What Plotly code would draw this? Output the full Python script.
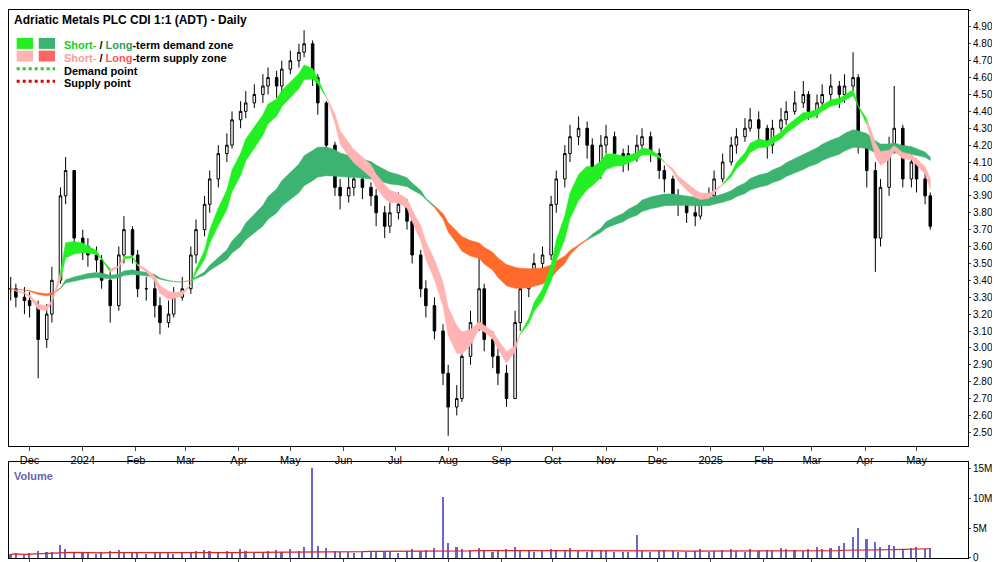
import pandas as pd
import numpy as np
import plotly.graph_objects as go
from plotly.subplots import make_subplots

closes = [3.35,3.30,3.28,3.25,3.05,3.20,3.40,3.90,4.05,3.65,3.60,3.55,3.52,3.40,3.25,3.55,3.70,3.55,3.35,3.35,
          3.25,3.15,3.20,3.30,3.35,3.55,3.70,3.85,4.00,4.15,4.20,4.35,4.40,4.45,4.50,4.55,4.60,4.55,4.65,4.70,
          4.75,4.80,4.60,4.45,4.20,3.95,3.90,3.95,4.00,3.95,3.90,3.80,3.72,3.80,3.85,3.75,3.55,3.35,3.25,3.10,
          2.85,2.65,2.70,2.95,3.15,3.35,3.05,2.95,2.85,2.70,3.15,3.35,3.40,3.50,3.55,3.85,4.00,4.15,4.25,4.30,
          4.20,4.05,4.20,4.25,4.15,4.10,4.15,4.20,4.25,4.15,4.05,4.00,3.90,3.85,3.80,3.78,3.85,3.90,4.00,4.10,
          4.20,4.25,4.30,4.35,4.30,4.20,4.30,4.35,4.40,4.45,4.50,4.40,4.45,4.50,4.55,4.50,4.55,4.60,4.20,4.05,
          3.65,3.95,4.20,4.30,4.00,4.10,4.00,3.90,3.72]
highs = [3.42,3.38,3.36,3.33,3.28,3.26,3.48,3.95,4.13,4.05,3.70,3.65,3.60,3.55,3.45,3.60,3.78,3.72,3.58,3.42,
         3.40,3.30,3.28,3.36,3.42,3.60,3.76,3.90,4.05,4.20,4.27,4.40,4.46,4.52,4.56,4.62,4.66,4.64,4.70,4.76,
         4.80,4.88,4.82,4.62,4.46,4.22,4.00,4.02,4.06,4.04,3.98,3.94,3.84,3.86,3.92,3.88,3.78,3.58,3.40,3.30,
         3.14,2.90,2.78,3.00,3.22,3.55,3.38,3.10,3.00,2.90,3.22,3.42,3.46,3.56,3.60,3.90,4.05,4.20,4.32,4.37,
         4.34,4.24,4.26,4.32,4.28,4.18,4.20,4.26,4.30,4.28,4.18,4.08,4.02,3.94,3.88,3.86,3.90,3.95,4.05,4.15,
         4.25,4.30,4.36,4.42,4.40,4.32,4.35,4.42,4.46,4.52,4.58,4.52,4.50,4.56,4.62,4.58,4.62,4.75,4.62,4.25,
         4.10,4.00,4.25,4.55,4.32,4.15,4.12,4.05,3.92]
lows = [3.28,3.24,3.20,3.18,2.82,3.00,3.15,3.38,3.85,3.60,3.52,3.48,3.45,3.35,3.15,3.22,3.50,3.50,3.30,3.28,
        3.18,3.08,3.12,3.18,3.28,3.32,3.50,3.66,3.80,3.95,4.10,4.18,4.30,4.36,4.42,4.45,4.50,4.48,4.50,4.62,
        4.66,4.72,4.55,4.38,4.15,3.90,3.82,3.86,3.90,3.88,3.84,3.72,3.65,3.68,3.76,3.70,3.50,3.30,3.18,3.05,
        2.78,2.48,2.60,2.68,2.90,3.10,2.98,2.88,2.78,2.65,2.70,3.10,3.30,3.38,3.45,3.52,3.80,3.95,4.10,4.20,
        4.12,4.00,4.00,4.15,4.08,4.04,4.05,4.10,4.15,4.10,4.00,3.92,3.85,3.78,3.74,3.72,3.76,3.84,3.88,3.98,
        4.08,4.15,4.22,4.28,4.22,4.12,4.15,4.28,4.32,4.38,4.42,4.35,4.36,4.42,4.46,4.42,4.45,4.52,4.15,3.95,
        3.45,3.60,3.90,4.15,3.95,3.95,3.92,3.85,3.70]
volumes_m = [0.6,0.8,0.5,0.7,1.2,0.9,1.0,2.2,1.5,1.0,0.8,0.7,0.6,0.9,1.1,1.3,0.9,0.7,0.8,0.6,
             0.7,0.9,0.8,0.6,0.9,1.0,1.1,1.3,1.2,1.0,1.1,0.9,1.4,1.2,1.0,0.9,1.1,1.3,1.0,1.5,
             1.2,1.8,15.0,2.0,1.6,1.2,1.0,0.9,0.8,1.0,1.1,0.9,1.2,1.0,0.8,1.1,1.4,1.2,1.3,1.6,
             10.2,2.5,1.8,1.5,1.3,1.6,1.2,1.0,1.1,1.4,1.8,1.3,1.1,1.0,1.2,1.5,1.3,1.1,1.6,1.2,
             1.0,1.1,1.3,1.2,1.0,0.9,1.0,3.8,1.1,1.0,1.2,1.3,1.1,1.0,0.9,1.2,1.4,1.0,1.1,1.3,
             1.5,1.2,1.0,1.4,1.1,1.3,1.2,1.6,1.4,1.3,1.2,1.5,1.8,1.4,1.6,1.9,2.4,3.5,5.0,3.2,
             2.6,1.8,2.2,1.9,1.5,1.6,1.8,1.4,1.7]

dates = pd.bdate_range("2023-11-20", periods=len(closes), freq="3B")
opens = [closes[0]] + closes[:-1]
vol = np.array(volumes_m) * 1e6
cl = pd.Series(closes, index=dates)

def ema(s, span):
    return s.ewm(span=span, adjust=False).mean()

fig = make_subplots(rows=2, cols=1, shared_xaxes=True, row_heights=[0.82, 0.18], vertical_spacing=0.03)

def add_zone(a, b, col_up, col_dn):
    state = (a > b).values
    n = len(a)
    start = 0
    for i in range(1, n + 1):
        if i == n or state[i] != state[start]:
            end = min(i, n - 1)
            xs = list(dates[start:end + 1])
            up = np.maximum(a.values[start:end + 1], b.values[start:end + 1])
            lo = np.minimum(a.values[start:end + 1], b.values[start:end + 1])
            color = col_up if state[start] else col_dn
            fig.add_trace(go.Scatter(x=xs + xs[::-1], y=list(up) + list(lo[::-1]), fill="toself",
                                     fillcolor=color, line=dict(width=0.5, color=color), mode="lines",
                                     hoverinfo="skip", showlegend=False), row=1, col=1)
            start = i

add_zone(ema(cl, 28), ema(cl, 42), "#3cb371", "#ff6a2a")
add_zone(ema(cl, 6), ema(cl, 9), "#22f022", "#ffb3b3")

fig.add_trace(go.Candlestick(x=dates, open=opens, high=highs, low=lows, close=closes,
                             increasing=dict(line=dict(color="black", width=1), fillcolor="white"),
                             decreasing=dict(line=dict(color="black", width=1), fillcolor="black"),
                             showlegend=False), row=1, col=1)

fig.add_trace(go.Bar(x=dates, y=vol, marker=dict(color="#6666cc", line=dict(width=0)), width=0.8e8,
                     showlegend=False), row=2, col=1)
fig.add_trace(go.Scatter(x=dates, y=pd.Series(vol).rolling(30, min_periods=1).median(), mode="lines",
                         line=dict(color="#dd2222", width=1.2), showlegend=False), row=2, col=1)

month_ticks = pd.date_range("2023-12-01", "2025-05-01", freq="MS")
tick_text = [("2024" if d.year == 2024 else "2025") if d.month == 1 else d.strftime("%b") for d in month_ticks]

tf = dict(family="Arial", size=10, color="black")
xr = [dates[0] - pd.Timedelta(days=1), dates[-1] + pd.Timedelta(days=22)]
fig.update_xaxes(range=xr, showgrid=False, showline=True, linecolor="black", mirror=True,
                 rangeslider=dict(visible=False), tickvals=month_ticks, ticktext=tick_text,
                 ticks="outside", ticklen=4, tickfont=dict(family="Arial", size=11, color="black"))
fig.update_xaxes(showticklabels=True, row=1, col=1)
fig.update_xaxes(showticklabels=False, row=2, col=1)
fig.update_yaxes(side="right", range=[2.42, 5.0], dtick=0.1, tickformat=".2f", showgrid=False,
                 showline=True, linecolor="black", mirror=True, ticks="outside", ticklen=2,
                 tickfont=tf, automargin=False, row=1, col=1)
fig.update_yaxes(side="right", range=[0, 16e6], tickvals=[0, 5e6, 10e6, 15e6], ticktext=["0", "5M", "10M", "15M"],
                 showgrid=False, showline=True, linecolor="black", mirror=True, ticks="outside", ticklen=2,
                 tickfont=tf, automargin=False, row=2, col=1)

ann = [
    dict(x=0.003, y=0.998, text="<b>Adriatic Metals PLC CDI 1:1 (ADT) - Daily</b>", font=dict(size=12)),
    dict(x=0.055, y=0.950, text='<b><span style="color:#22cc22">Short-</span> / <span style="color:#2e9e5e">Long</span>-term demand zone</b>', font=dict(size=11)),
    dict(x=0.055, y=0.927, text='<b><span style="color:#ff9999">Short-</span> / <span style="color:#ff5555">Long</span>-term supply zone</b>', font=dict(size=11)),
    dict(x=0.055, y=0.904, text="<b>Demand point</b>", font=dict(size=11)),
    dict(x=0.055, y=0.881, text="<b>Supply point</b>", font=dict(size=11)),
    dict(x=0.003, y=0.165, text="<b>Volume</b>", font=dict(size=11, color="#6666aa")),
]
annotations = [dict(xref="paper", yref="paper", xanchor="left", yanchor="top", showarrow=False,
                    font=dict(family="Arial", color=a["font"].get("color", "black"), size=a["font"]["size"]),
                    x=a["x"], y=a["y"], text=a["text"]) for a in ann]
shapes = []
for y0, c1, c2 in [(0.935, "#22f022", "#3cb371"), (0.912, "#ffb3b3", "#ff6666")]:
    shapes.append(dict(type="rect", xref="paper", yref="paper", x0=0.008, x1=0.025, y0=y0 - 0.006, y1=y0 + 0.014,
                       fillcolor=c1, line=dict(width=0)))
    shapes.append(dict(type="rect", xref="paper", yref="paper", x0=0.031, x1=0.048, y0=y0 - 0.006, y1=y0 + 0.014,
                       fillcolor=c2, line=dict(width=0)))
for y0, c in [(0.893, "#22cc22"), (0.870, "#dd0000")]:
    shapes.append(dict(type="line", xref="paper", yref="paper", x0=0.008, x1=0.048, y0=y0, y1=y0,
                       line=dict(color=c, width=3, dash="dot")))

fig.update_layout(width=1000, height=562, margin=dict(l=1, r=40, t=2, b=12), plot_bgcolor="white",
                  paper_bgcolor="white", annotations=annotations, shapes=shapes, bargap=0,
                  font=dict(family="Arial"))
fig.write_html("out.html")
